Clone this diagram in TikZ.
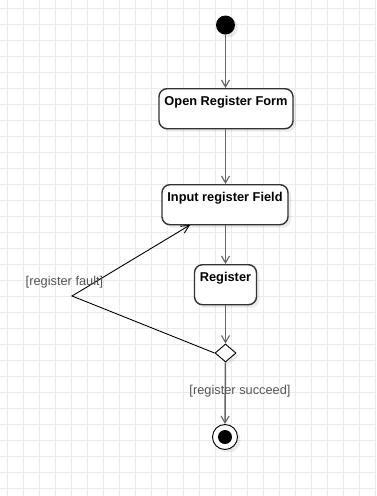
\documentclass[tikz,border=0pt]{standalone}
\usepackage{fontspec}
\setmainfont{Liberation Sans}
\usetikzlibrary{arrows.meta,shapes.geometric,shadows}

\definecolor{gridline}{HTML}{EBEBEB}
\definecolor{boxline}{HTML}{333333}
\definecolor{flowline}{HTML}{666666}
\definecolor{guardtext}{HTML}{555555}

\tikzset{
  shade/.style={drop shadow={shadow xshift=3pt,shadow yshift=-3pt,fill=black,opacity=0.08}},
  activity/.style={draw=boxline,line width=1.4pt,rounded corners=8pt,fill=white,shade,
    font=\bfseries\fontsize{12.8}{15}\selectfont,inner xsep=0pt,inner ysep=0pt,
    text height=16.5pt,text depth=23.5pt,anchor=north},
  flow/.style={draw=flowline,line width=1.5pt,-{Straight Barb[length=7pt,width=8pt,line width=1.1pt]}},
  back/.style={draw=black,line width=0.9pt,-{Straight Barb[length=8pt,width=8pt,line width=0.9pt]}},
  guard/.style={text=guardtext,font=\fontsize{12.8}{15}\selectfont,inner sep=0pt},
  decision/.style={diamond,draw=black,line width=0.9pt,fill=white,shade,
    minimum width=21pt,minimum height=18pt,inner sep=0pt},
}

\begin{document}
\begin{tikzpicture}[x=1pt,y=-1pt]
  % canvas and grid
  \fill[white] (0,0) rectangle (376,496);
  \useasboundingbox (0,0) rectangle (376,496);
  \foreach \gx in {7.5,23.5,...,375.5} \draw[gridline,line width=1pt] (\gx,0) -- (\gx,496);
  \foreach \gy in {8,24,...,495} \draw[gridline,line width=1pt] (0,\gy) -- (376,\gy);

  % initial and final states
  \node (start) [circle,fill=black,minimum size=19pt,inner sep=0pt,shade] at (225.5,25) {};
  \node (end) [circle,draw=black,line width=0.9pt,fill=white,minimum size=25pt,inner sep=0pt,shade] at (225,437) {};
  \node (endcore) [circle,fill=black,minimum size=14pt,inner sep=0pt] at (end.center) {};

  % activities
  \node (open)  [activity,minimum width=134pt] at (226,88)  {Open Register Form};
  \node (input) [activity,minimum width=126pt] at (225,184) {Input register Field};
  \node (reg)   [activity,minimum width=62pt]  at (225.5,264) {Register};

  % decision
  \node (dec) [decision] at (225.5,353) {};
  \coordinate (bend) at (72,296);
  \coordinate (faultin) at (190,225);

  % flows
  \draw[flow] (start) -- (start |- open.north);
  \draw[flow] (open.south -| 225.5,0) -- (input.north -| 225.5,0);
  \draw[flow] (input.south -| 225.5,0) -- (reg.north -| 225.5,0);
  \draw[flow] (reg.south -| 225.5,0) -- (dec.north);
  \draw[flow] (dec.south) -- (end.north);
  \draw[back] (dec.west) -- (bend) -- (faultin);

  % guards
  \node (gfault)   [guard] at (64.5,282) {[register fault]};
  \node (gsucceed) [guard] at (240,391)  {[register succeed]};
\end{tikzpicture}
\end{document}
